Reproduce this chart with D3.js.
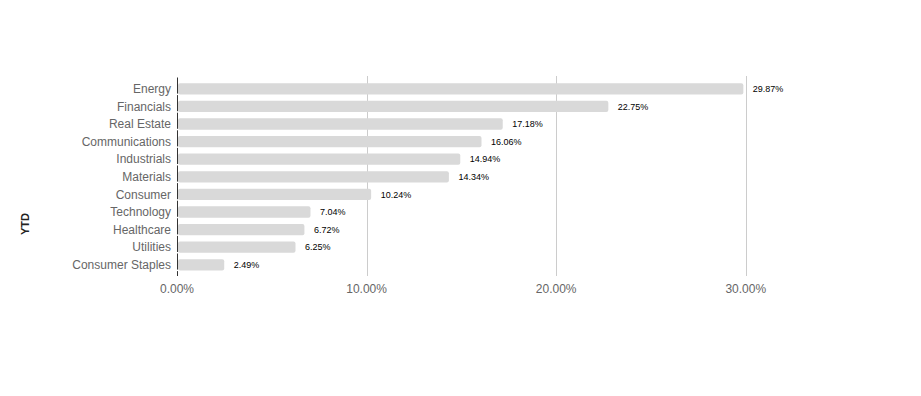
<!DOCTYPE html>
<html>
<head>
<meta charset="utf-8">
<script src="https://cdn.jsdelivr.net/npm/d3@7"></script>
<style>
  body { margin: 0; background: #fff; }
  svg { display: block; font-family: Arial, "Liberation Sans", sans-serif; }
</style>
</head>
<body>
<div id="chart"></div>
<script>
// Data
const sectors = ['Energy', 'Financials', 'Real Estate', 'Communications', 'Industrials', 'Materials', 'Consumer', 'Technology', 'Healthcare', 'Utilities', 'Consumer Staples']
const ytd = [29.87, 22.75, 17.18, 16.06, 14.94, 14.34, 10.24, 7.04, 6.72, 6.25, 2.49]
const xTicks = [0, 10, 20, 30]

const width = 921
const height = 396
const margins = { top: 80, right: 100, bottom: 122, left: 177 }

const svg = d3.select('#chart').append('svg')
  .attr('width', width)
  .attr('height', height)
  .attr('viewBox', [0, 0, width, height].join(' '))

// Scales
const xScale = d3.scaleLinear()
  .domain([0, 10])
  .range([margins.left, margins.left + 189.6])

const yScale = d3.scaleBand()
  .domain(sectors)
  .range([margins.top, margins.top + 17.6 * sectors.length])
  .paddingInner(0.36)
  .paddingOuter(0.18)

const plotTop = 76
const plotBottom = 276

// Gridlines
svg.append('g')
  .selectAll('line')
  .data(xTicks.filter(d => d > 0))
  .enter().append('line')
  .attr('x1', d => Math.round(xScale(d)) + 0.5)
  .attr('x2', d => Math.round(xScale(d)) + 0.5)
  .attr('y1', plotTop)
  .attr('y2', plotBottom)
  .attr('stroke', '#cccccc')
  .attr('stroke-width', 1)

// Bars
svg.append('g')
  .selectAll('rect')
  .data(sectors)
  .enter().append('rect')
  .attr('x', xScale(0) + 1)
  .attr('y', d => yScale(d))
  .attr('width', (d, i) => xScale(ytd[i]) - xScale(0) - 1)
  .attr('height', yScale.bandwidth())
  .attr('rx', 2)
  .attr('fill', '#d9d9d9')

// Baseline (drawn in segments, one per row)
const step = yScale.step()
svg.append('g')
  .selectAll('line')
  .data(d3.range(sectors.length + 1))
  .enter().append('line')
  .attr('x1', Math.round(xScale(0)) + 0.5)
  .attr('x2', Math.round(xScale(0)) + 0.5)
  .attr('y1', i => plotTop + i * step + 1.5)
  .attr('y2', i => Math.min(plotBottom, plotTop + (i + 1) * step))
  .attr('stroke', '#333333')
  .attr('stroke-width', 1)

// Value labels
svg.append('g')
  .selectAll('text')
  .data(sectors)
  .enter().append('text')
  .attr('x', (d, i) => xScale(ytd[i]) + 9.5)
  .attr('y', d => yScale(d) + yScale.bandwidth() / 2)
  .attr('dy', '0.35em')
  .attr('font-size', 9)
  .attr('fill', '#000')
  .text((d, i) => ytd[i].toFixed(2) + '%')

// Category labels
svg.append('g')
  .selectAll('text')
  .data(sectors)
  .enter().append('text')
  .attr('x', margins.left - 6)
  .attr('y', d => yScale(d) + yScale.bandwidth() / 2)
  .attr('dy', '0.35em')
  .attr('text-anchor', 'end')
  .attr('font-size', 12)
  .attr('fill', '#666666')
  .text(d => d)

// X tick labels
svg.append('g')
  .selectAll('text')
  .data(xTicks)
  .enter().append('text')
  .attr('x', d => xScale(d))
  .attr('y', 293)
  .attr('text-anchor', 'middle')
  .attr('font-size', 12)
  .attr('fill', '#666666')
  .text(d => d.toFixed(2) + '%')

// Y title
svg.append('text')
  .attr('transform', 'translate(29, 224) rotate(-90)')
  .attr('text-anchor', 'middle')
  .attr('font-size', 11)
  .attr('font-weight', 'bold')
  .attr('fill', '#222222')
  .text('YTD')
</script>
</body>
</html>
